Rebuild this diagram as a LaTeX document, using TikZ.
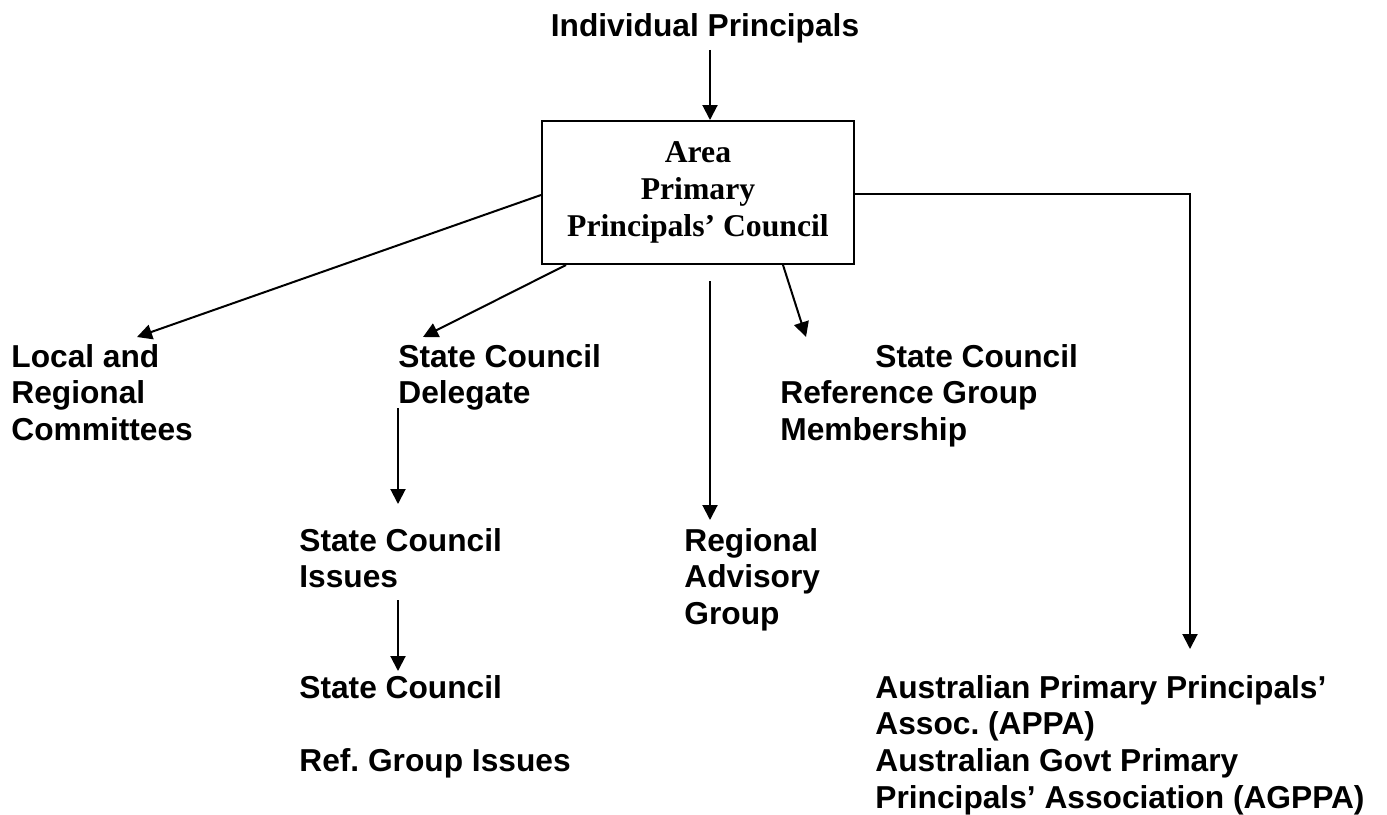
\documentclass[tikz,border=0pt]{standalone}
\usepackage{fontspec}
\setmainfont{Liberation Sans}
\newfontfamily\councilfont{Liberation Serif}
\usetikzlibrary{calc,arrows.meta}
\newcommand{\figuresize}{0.5pt}
\newcommand{\unitfont}{\fontsize{15.85pt}{18.35pt}\selectfont\bfseries\frenchspacing}
\tikzset{
	% multi-line nodes sit on the baseline of their last line
	unit/.style={anchor=base west, align=left, inner sep=0pt, font=\unitfont},
	feed/.style={line width=1pt, -{Triangle[length=7.5pt,width=7.5pt]}},
}

\begin{document}
\begin{tikzpicture}[x=\figuresize,y=-\figuresize]
	\useasboundingbox (0,0) rectangle (1387,814);
	\node [anchor=base, inner sep=0pt, font=\unitfont] (individual) at (705,36) {Individual Principals};
	\node [draw, line width=1pt, minimum width=156pt, minimum height=71.5pt, inner sep=0pt, align=center,
		font=\councilfont\fontsize{15.85pt}{18.5pt}\selectfont\bfseries] (council) at (698,192.5) {Area\\Primary\\Principals’ Council};

	\node [unit] (local) at (11,440.4) {Local and\\Regional\\Committees};
	\node [unit] (delegate) at (398,403.7) {State Council\\Delegate};
	\node [unit] (membership) at (780,440.4) {\hspace*{47.5pt}State Council\\Reference Group\\Membership};
	\node [unit] (issues) at (299,587.7) {State Council\\Issues};
	\node [unit] (regional) at (684,624.4) {Regional\\Advisory\\Group};
	\node [unit] (refissues) at (299,771.4) {State Council\\~\\Ref. Group Issues};
	\node [unit] (appa) at (875,808.1) {Australian Primary Principals’\\Assoc. (APPA)\\Australian Govt Primary\\Principals’ Association (AGPPA)};

	\coordinate (localtip) at (137,337);
	\coordinate (delegatetip) at (423,337);
	\coordinate (membertip) at (806,337);
	\coordinate (regionaltop) at (710,281);
	\coordinate (regionaltip) at (710,520);
	\coordinate (delegatefoot) at (398,408);
	\coordinate (issuestip) at (398,504);
	\coordinate (issuesfoot) at (398,600);
	\coordinate (refissuestip) at (398,671);
	\coordinate (appatip) at (1190,649);

	\draw [feed, shorten <=3.5pt] ([xshift=2.5pt]individual.south) -- ([xshift=2.5pt]individual.south |- council.north);
	\draw [feed] ([yshift=-1.25pt]council.west) -- (localtip);
	\draw [feed] ([xshift=12.5pt]council.south west) -- (delegatetip);
	\draw [feed] ([xshift=-36pt]council.south east) -- (membertip);
	\draw [feed] (regionaltop) -- (regionaltip);
	\draw [feed] (delegatefoot) -- (issuestip);
	\draw [feed] (issuesfoot) -- (refissuestip);
	\draw [feed] ([yshift=-0.75pt]council.east) -| (appatip);
\end{tikzpicture}
\end{document}
